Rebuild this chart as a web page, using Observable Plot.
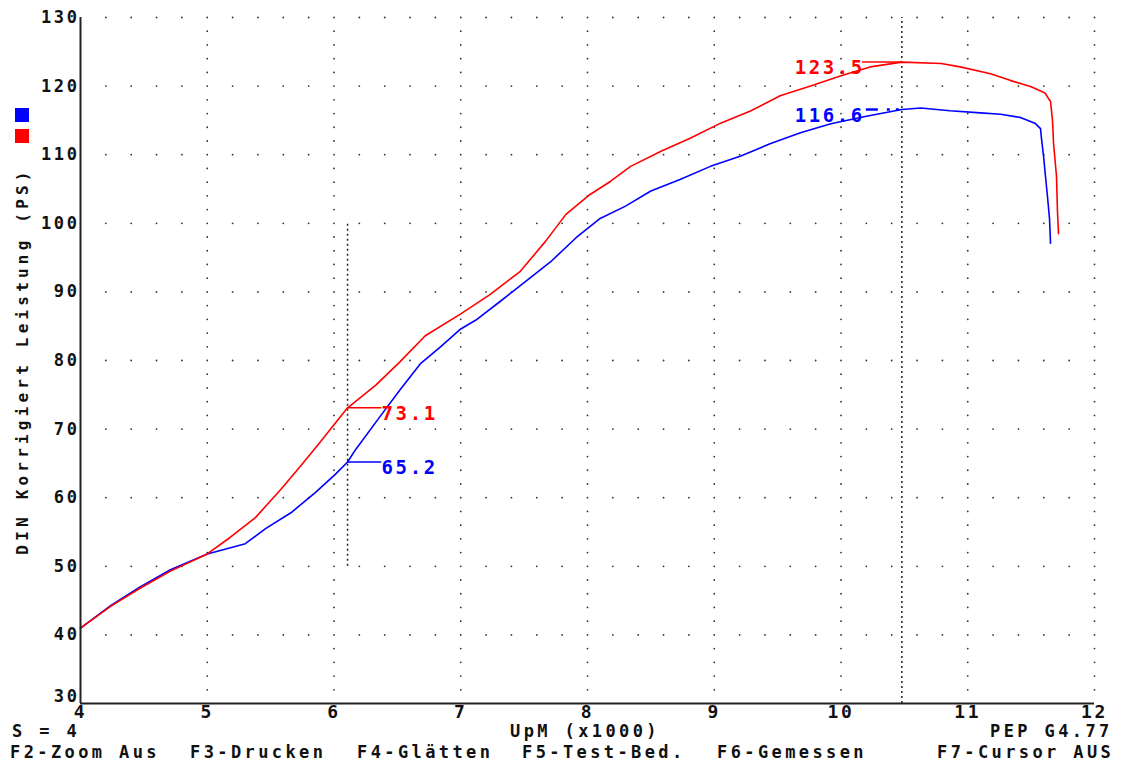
<!DOCTYPE html>
<html>
<head>
<meta charset="utf-8">
<script src="https://cdn.jsdelivr.net/npm/d3@7"></script>
<script src="https://cdn.jsdelivr.net/npm/@observablehq/plot@0.6"></script>
<style>
  html, body { margin: 0; padding: 0; background: #fff; }
  #wrap { position: relative; width: 1121px; height: 765px; overflow: hidden; font-family: "DejaVu Sans Mono", monospace; font-weight: bold; color: #111; }
  #chart svg text { letter-spacing: 2.6px; }
  .t { position: absolute; font-size: 17px; letter-spacing: 3.4px; white-space: pre; line-height: 17px; }
  .sq { position: absolute; width: 14px; height: 14px; }
  #ylab { position: absolute; left: 22px; top: 361px; transform: translate(-50%, -50%) rotate(-90deg); font-size: 16px; letter-spacing: 4.2px; white-space: pre; }
</style>
</head>
<body>
<div id="wrap">
  <div id="chart"></div>
  <div class="sq" style="left:15px;top:108px;background:#0000ff"></div>
  <div class="sq" style="left:15px;top:129px;background:#ff0000"></div>
  <div id="ylab">DIN Korrigiert Leistung (PS)</div>
  <div id="bottom"></div>
</div>
<script>
// ---- data ----
const rpmRed = [4.00,4.24,4.47,4.71,5.00,5.18,5.38,5.58,5.74,5.89,6.107,6.33,6.52,6.72,7.00,7.23,7.47,7.67,7.83,8.02,8.18,8.34,8.58,8.81,9.05,9.29,9.52,9.76,10.00,10.23,10.48,10.79,10.94,11.18,11.34,11.50,11.61,11.64,11.653,11.669,11.677,11.70,11.708,11.716];
const psRed  = [41.0,44.2,46.8,49.3,51.8,54.2,57.1,61.2,64.7,68.1,73.1,76.4,79.8,83.6,86.8,89.6,93.0,97.4,101.3,104.2,106.1,108.3,110.5,112.4,114.6,116.4,118.6,120.0,121.5,122.8,123.5,123.3,122.8,121.8,120.8,119.9,119.0,118.1,117.8,114.9,111.6,106.9,101.7,98.5];
const rpmBlue = [4.00,4.24,4.47,4.71,5.00,5.14,5.30,5.46,5.66,5.85,6.01,6.107,6.17,6.37,6.52,6.68,6.84,7.00,7.12,7.31,7.51,7.71,7.91,8.10,8.30,8.50,8.73,8.97,9.21,9.44,9.68,9.92,10.20,10.48,10.63,10.86,11.10,11.26,11.42,11.53,11.574,11.582,11.598,11.613,11.629,11.645,11.653];
const psBlue  = [41.0,44.3,47.0,49.5,51.8,52.5,53.3,55.5,57.8,60.7,63.4,65.2,67.0,72.0,75.7,79.5,82.0,84.6,85.9,88.6,91.5,94.4,97.9,100.7,102.5,104.7,106.4,108.3,109.8,111.6,113.2,114.5,115.6,116.6,116.8,116.4,116.1,115.9,115.4,114.6,113.8,112.3,109.8,106.9,103.9,100.7,97.1];

const xTicks = [4,5,6,7,8,9,10,11,12];
const yTicks = [30,40,50,60,70,80,90,100,110,120,130];

const cursor1 = 6.107;   // lower cursor
const cursor2 = 10.48;   // peak cursor
const cursor1Values = [{v: 73.1, c: "#ff0000"}, {v: 65.2, c: "#0000ff"}];
const cursor2Values = [{v: 123.5, c: "#ff0000"}, {v: 116.6, c: "#0000ff"}];

const bottomLine1 = [["S = 4", 12], ["UpM (x1000)", 510], ["PEP G4.77", 990]];
const bottomLine2 = [["F2-Zoom Aus", 10], ["F3-Drucken", 190], ["F4-Glätten", 357], ["F5-Test-Bed.", 522], ["F6-Gemessen", 717], ["F7-Cursor AUS", 937]];

// ---- build tables ----
const red = rpmRed.map((x, i) => ({x, y: psRed[i]}));
const blue = rpmBlue.map((x, i) => ({x, y: psBlue[i]}));

// dotted grid: rows every 10 PS (dots every 0.2), columns every 1000 rpm (dots every 2 PS)
const gridDots = [];
for (const y of yTicks.slice(1)) for (let k = 1; k <= 40; k++) gridDots.push({x: 4 + k * 0.2, y});
for (const x of xTicks.slice(1)) for (let y = 32; y <= 130; y += 2) if (y % 10 !== 0) gridDots.push({x, y});

const chart = Plot.plot({
  width: 1121,
  height: 722,
  marginLeft: 80,
  marginRight: 27,
  marginTop: 17,
  marginBottom: 19,
  x: {domain: [4, 12]},
  y: {domain: [30, 130]},
  style: {fontFamily: "DejaVu Sans Mono", fontWeight: "bold", fontSize: "17px", background: "#fff", overflow: "visible", color: "#111"},
  marks: [
    Plot.dot(gridDots, {x: "x", y: "y", r: 0.9, fill: "#333", stroke: null}),
    Plot.ruleX([cursor1], {y1: 50, y2: 100, stroke: "#222", strokeWidth: 1.5, strokeDasharray: "2,3"}),
    Plot.ruleX([cursor2], {y1: 30, y2: 130, stroke: "#222", strokeWidth: 1.5, strokeDasharray: "2,3"}),
    Plot.line(blue, {x: "x", y: "y", stroke: "#0000ff", strokeWidth: 1.6}),
    Plot.line(red, {x: "x", y: "y", stroke: "#ff0000", strokeWidth: 1.6}),
    // cursor 1 value markers
    Plot.ruleY(cursor1Values, {y: "v", x1: cursor1, x2: cursor1 + 0.27, stroke: "c", strokeWidth: 1.5}),
    Plot.text(cursor1Values, {x: cursor1, y: "v", text: d => d.v.toFixed(1), fill: "c", textAnchor: "start", dx: 34, dy: 6, fontSize: 19}),
    // cursor 2 value markers
    Plot.ruleY(cursor2Values.slice(0, 1), {y: "v", x1: cursor2 - 0.31, x2: cursor2, stroke: "c", strokeWidth: 1.5}),
    Plot.ruleY(cursor2Values.slice(1), {y: "v", x1: cursor2 - 0.28, x2: cursor2, stroke: "c", strokeWidth: 2.5, strokeDasharray: "12,9,3,6,3,3"}),
    Plot.text(cursor2Values, {x: cursor2, y: "v", text: d => d.v.toFixed(1), fill: "c", textAnchor: "end", dx: -37, dy: 6, fontSize: 19}),
    // frame
    Plot.ruleX([4], {stroke: "#222", strokeWidth: 2}),
    Plot.ruleY([30], {stroke: "#222", strokeWidth: 2}),
    Plot.axisX({ticks: xTicks, tickSize: 0, tickPadding: 2, tickFormat: d => String(d), label: null, fontSize: 18}),
    Plot.axisY({ticks: yTicks.slice(1), tickSize: 0, tickPadding: 1, tickFormat: d => String(d), label: null, fontSize: 17}),
    Plot.axisY({ticks: yTicks.slice(0, 1), tickSize: 0, tickPadding: 1, tickFormat: d => String(d), label: null, fontSize: 17, dy: -7})
  ]
});
document.getElementById("chart").appendChild(chart);

const bottom = document.getElementById("bottom");
for (const [t, left] of bottomLine1) {
  const s = document.createElement("div"); s.className = "t"; s.textContent = t;
  s.style.left = left + "px"; s.style.top = "723px"; bottom.appendChild(s);
}
for (const [t, left] of bottomLine2) {
  const s = document.createElement("div"); s.className = "t"; s.textContent = t;
  s.style.left = left + "px"; s.style.top = "744px"; bottom.appendChild(s);
}
</script>
</body>
</html>
